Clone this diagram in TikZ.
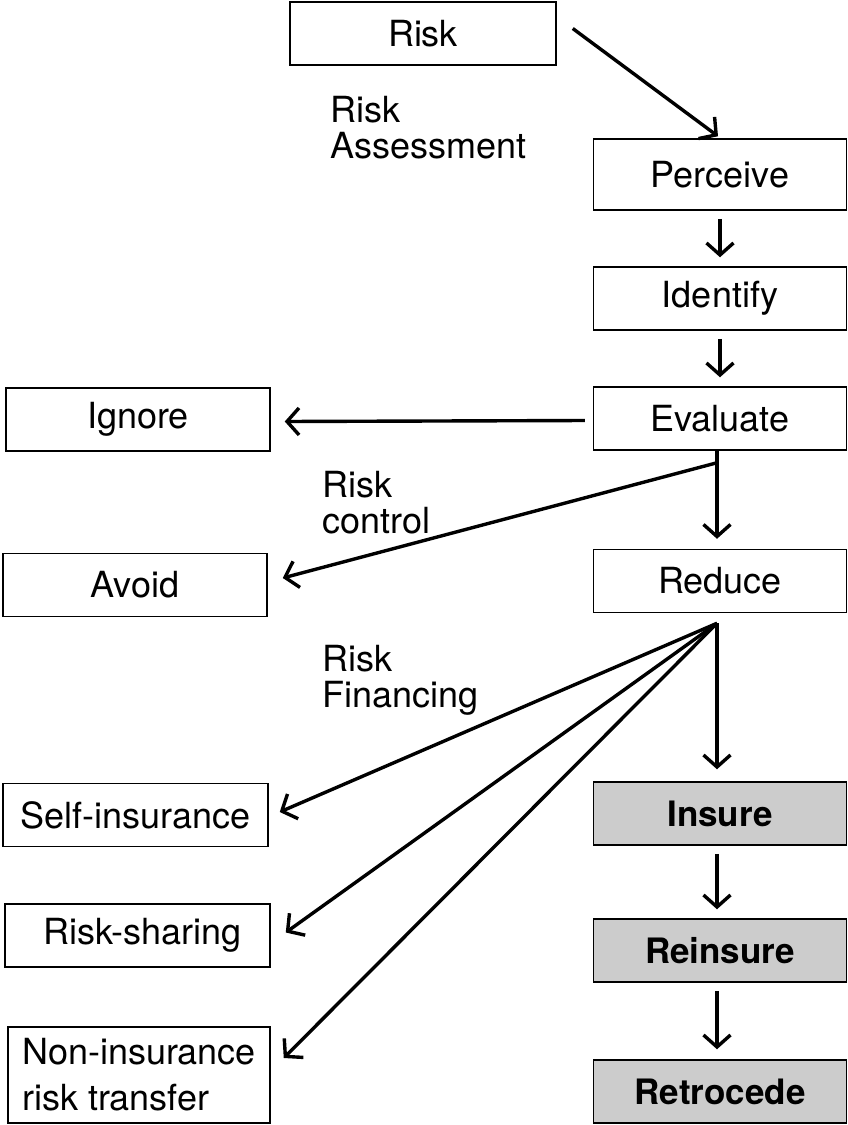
\documentclass[tikz,border=0pt]{standalone}
\usepackage{fontspec}
\setmainfont{TeX Gyre Heros}
\usetikzlibrary{arrows.meta,calc}
\begin{document}
\begin{tikzpicture}[x=1pt,y=-1pt,
  box/.style={draw,line width=1.5pt,minimum height=63pt,inner sep=0pt,font=\fontsize{36}{44}\selectfont},
  shadebox/.style={box,fill=black!20,font=\fontsize{35}{40}\selectfont\bfseries},
  arr/.style={line width=3.4pt,-{Straight Barb[length=12pt,width=27pt,line width=3.4pt]}},
  lab/.style={align=left,anchor=north west,inner sep=0pt,font=\fontsize{36}{36}\selectfont}]
\useasboundingbox (0,0) rectangle (848,1125);
% right column
\node[box,minimum width=266pt] (risk) at (423,33.5) {Risk};
\node[box,minimum width=253pt,minimum height=71pt] (perceive) at (720,174.5) {Perceive};
\node[box,minimum width=253pt] (identify) at (720,298.5) {Identify};
\node[box,minimum width=253pt] (evaluate) at (720,418.5) {Evaluate};
\node[box,minimum width=253pt] (reduce) at (720,581) {Reduce};
\node[shadebox,minimum width=253pt] (insure) at (720,813.5) {Insure};
\node[shadebox,minimum width=253pt] (reinsure) at (720,950.5) {Reinsure};
\node[shadebox,minimum width=253pt] (retrocede) at (720,1091.5) {Retrocede};
% left column
\node[box,minimum width=264pt] (ignore) at (138,419.5) {Ignore};
\node[box,minimum width=264pt] (avoid) at (135,585) {Avoid};
\node[box,minimum width=265pt] (selfins) at (135.5,815) {Self-insurance};
\node[box,minimum width=265pt] (sharing) at (137.5,935.5) {\hspace{10pt}Risk-sharing};
\node[box,minimum width=262pt,minimum height=96pt,align=left,font=\fontsize{36}{46}\selectfont] (noninsurance) at (139,1075) {Non-insurance\\risk transfer};
% labels
\node[lab] (assess) at (330,96) {Risk\\Assessment};
\node[lab] (control) at (322,471) {Risk\\control};
\node[lab] (financing) at (322,645) {Risk\\Financing};
% branch points
\coordinate (ev) at ($(evaluate.south)+(-3,12)$);
\coordinate (rd) at ($(reduce.south)+(-3,10)$);
% arrows
\draw[arr] ($(risk.east)+(16,-5)$) -- ($(perceive.north)+(-2,-2)$);
\draw[arr] ($(perceive.south)+(0,8)$) -- ($(identify.north)+(0,-9)$);
\draw[arr] ($(identify.south)+(0,8)$) -- ($(evaluate.north)+(0,-9)$);
\draw[arr] ($(evaluate.west)+(-8,2)$) -- ($(ignore.east)+(14,2)$);
\draw[line width=3.4pt] (evaluate.south -| ev) -- (ev);
\draw[arr] (ev) -- ($(avoid.east)+(15,-7)$);
\draw[arr] (ev) -- ($(reduce.north)+(-3,-10)$);
\draw[arr] (rd) -- ($(selfins.east)+(11,-3)$);
\draw[arr] (rd) -- ($(sharing.east)+(15,-3)$);
\draw[arr] (rd) -- ($(noninsurance.east)+(13,-17)$);
\draw[arr] (rd) -- ($(insure.north)+(-3,-12)$);
\draw[arr] ($(insure.south)+(-3,8)$) -- ($(reinsure.north)+(-3,-9)$);
\draw[arr] ($(reinsure.south)+(-3,8)$) -- ($(retrocede.north)+(-3,-10)$);
\end{tikzpicture}
\end{document}
